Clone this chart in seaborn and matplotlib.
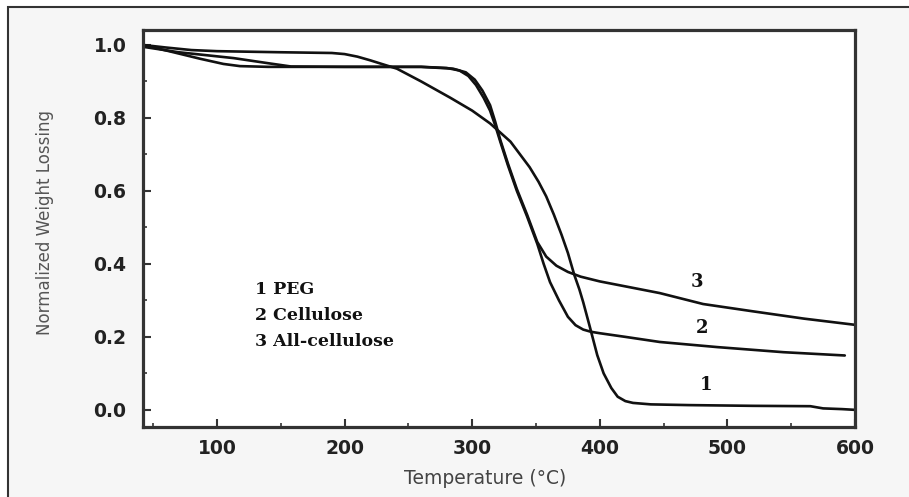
import numpy as np
import pandas as pd
import matplotlib
matplotlib.use("Agg")
import matplotlib.pyplot as plt
import seaborn as sns
from matplotlib.patches import Rectangle
from matplotlib.ticker import MultipleLocator

# TGA curves
peg_temp = [42, 60, 80, 100, 150, 190, 200, 210, 220, 230, 241, 260, 283, 300, 314,
            330, 345, 352, 358, 364, 370, 375, 380, 384, 387, 392, 398, 403, 409,
            414, 420, 426, 440, 470, 520, 565, 575, 590, 600]
peg_weight = [1.0, 0.993, 0.986, 0.983, 0.98, 0.978, 0.975, 0.968, 0.958, 0.947, 0.935,
              0.90, 0.855, 0.82, 0.785, 0.735, 0.665, 0.625, 0.585, 0.535, 0.48, 0.43,
              0.37, 0.33, 0.295, 0.23, 0.15, 0.10, 0.06, 0.036, 0.024, 0.019, 0.015,
              0.013, 0.011, 0.01, 0.004, 0.002, 0.0]

cell_temp = [42, 60, 87, 105, 118, 140, 200, 260, 280, 290, 297, 303, 309, 314, 318,
             322, 328, 335, 343, 351, 356, 361, 368, 375, 381, 387, 393, 400, 420,
             447, 492, 544, 592]
cell_weight = [1.0, 0.985, 0.962, 0.948, 0.942, 0.94, 0.94, 0.94, 0.937, 0.93, 0.915,
               0.89, 0.855, 0.82, 0.78, 0.735, 0.67, 0.60, 0.53, 0.455, 0.40, 0.35,
               0.30, 0.255, 0.232, 0.22, 0.214, 0.21, 0.20, 0.186, 0.172, 0.158, 0.149]

allcell_temp = [42, 70, 113, 140, 158, 200, 260, 285, 295, 302, 308, 314, 318, 322,
                328, 335, 343, 351, 358, 366, 375, 385, 400, 425, 447, 481, 520, 560, 600]
allcell_weight = [0.995, 0.98, 0.964, 0.95, 0.941, 0.94, 0.94, 0.935, 0.925, 0.905,
                  0.875, 0.835, 0.79, 0.74, 0.675, 0.605, 0.535, 0.46, 0.42, 0.395,
                  0.378, 0.365, 0.352, 0.335, 0.32, 0.29, 0.27, 0.25, 0.233]

legend_lines = ["1 PEG", "2 Cellulose", "3 All-cellulose"]
curve_labels = ["1", "2", "3"]
curve_label_pos = [(483, 0.068), (480, 0.225), (476, 0.35)]

sns.set_style("ticks")
plt.rcParams["font.family"] = ["DejaVu Sans"]

fig = plt.figure(figsize=(9.09, 4.97), dpi=100)
fig.patch.set_facecolor("white")
# light grey panel with a dark frame on top/left, like the scanned figure
fig.patches.append(Rectangle((8 / 909, -0.05), 1.2, 1 - 7 / 497 + 0.05,
                             transform=fig.transFigure, facecolor="#f6f6f6",
                             edgecolor="#333333", linewidth=1.5, zorder=-10))

ax = fig.add_axes([143 / 909, 1 - 427 / 497, 712 / 909, 397 / 497])
ax.set_zorder(5)
ax.set_facecolor("white")

for t, w in [(peg_temp, peg_weight), (cell_temp, cell_weight), (allcell_temp, allcell_weight)]:
    sns.lineplot(x=t, y=w, ax=ax, color="#111111", linewidth=1.9, sort=False,
                 estimator=None)

ax.set_xlim(42, 600)
ax.set_ylim(-0.047, 1.041)
ax.xaxis.set_major_locator(MultipleLocator(100))
ax.xaxis.set_minor_locator(MultipleLocator(50))
ax.yaxis.set_major_locator(MultipleLocator(0.2))
ax.yaxis.set_minor_locator(MultipleLocator(0.1))
ax.yaxis.set_major_formatter(matplotlib.ticker.FormatStrFormatter("%.1f"))
ax.tick_params(which="major", direction="in", length=6, width=1.5, color="#333333")
ax.tick_params(which="minor", direction="in", length=3, width=1.2, color="#333333")
ax.tick_params(labelsize=13.5)
ax.tick_params(axis="x", pad=9)
ax.tick_params(axis="y", pad=12)
for lab in ax.get_xticklabels() + ax.get_yticklabels():
    lab.set_fontweight("bold")
    lab.set_color("#222222")
for s in ax.spines.values():
    s.set_visible(True)
    s.set_linewidth(2.3)
    s.set_color("#333333")

ax.set_xlabel("Temperature (\u00b0C)", fontsize=13.5, color="#444444")
ax.xaxis.set_label_coords(0.48, -0.105)
ax.set_ylabel("Normalized Weight Lossing", fontsize=12, color="#555555")
ax.yaxis.set_label_coords(-0.125, 0.514)

serif = ["DejaVu Serif", "Liberation Serif"]
for i, line in enumerate(legend_lines):
    ax.text(130, 0.33 - i * 0.071, line, fontsize=12.5, fontweight="bold",
            family=serif, va="center", ha="left", color="#111111")
for lab, (x, y) in zip(curve_labels, curve_label_pos):
    ax.text(x, y, lab, fontsize=13, fontweight="bold",
            family=serif, va="center", ha="center", color="#111111")

fig.savefig("out.png", dpi=100)
